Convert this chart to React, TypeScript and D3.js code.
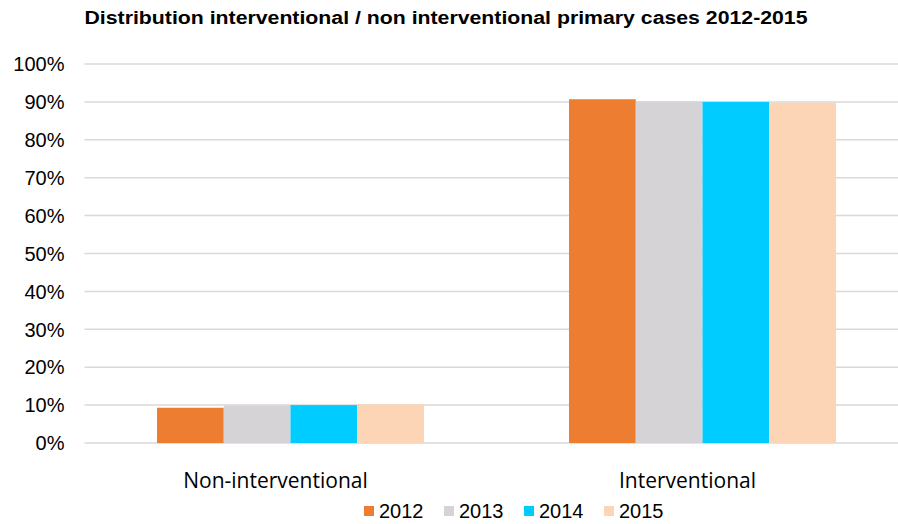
import * as d3 from "d3";
import { useEffect, useRef } from "react";

const categories = ["Non-interventional", "Interventional"];
const years = ["2012", "2013", "2014", "2015"];
const nonInterventional = [9.3, 9.9, 10.0, 10.2];
const interventional = [90.7, 90.1, 90.0, 89.8];
const yTicks = [0, 10, 20, 30, 40, 50, 60, 70, 80, 90, 100];
const colors = ["#ED7D31", "#D6D3D6", "#00CCFF", "#FBD5B5"];

export default function App() {
    const ref = useRef<SVGSVGElement>(null);

    useEffect(() => {
        const svg = d3.select(ref.current);
        svg.selectAll("*").remove();

        const width = 898;
        const height = 524;
        const margin = { top: 64, left: 84.5, right: -10.5, bottom: 81 };
        const plotW = width - margin.left - margin.right;
        const plotH = height - margin.top - margin.bottom;

        const values = [nonInterventional, interventional];

        // title
        svg.append("text")
            .attr("x", 446)
            .attr("y", 24)
            .attr("text-anchor", "middle")
            .style("font-family", "'Liberation Sans', Arial, sans-serif")
            .style("font-weight", "bold")
            .style("font-size", "18px")
            .attr("textLength", 723)
            .attr("lengthAdjust", "spacingAndGlyphs")
            .text("Distribution interventional / non interventional primary cases 2012-2015");

        const g = svg.append("g").attr("transform", `translate(${margin.left},${margin.top})`);

        const y = d3.scaleLinear().domain([0, 100]).range([plotH, 0]);
        const x0 = d3.scaleBand().domain(categories).range([0, plotW]).paddingInner(0.352).paddingOuter(0.176);
        const x1 = d3.scaleBand().domain(years).range([0, x0.bandwidth()]);

        // gridlines
        g.selectAll("line.grid")
            .data(yTicks)
            .enter()
            .append("line")
            .attr("class", "grid")
            .attr("x1", 0)
            .attr("x2", plotW)
            .attr("y1", d => y(d))
            .attr("y2", d => y(d))
            .attr("stroke", "#d9d9d9")
            .attr("stroke-width", 1.5);

        // y labels
        g.selectAll("text.ytick")
            .data(yTicks)
            .enter()
            .append("text")
            .attr("class", "ytick")
            .attr("x", -20)
            .attr("y", d => y(d))
            .attr("dy", "0.36em")
            .attr("text-anchor", "end")
            .style("font-family", "'Liberation Sans', Arial, sans-serif")
            .style("font-size", "20px")
            .attr("fill", "#000")
            .text(d => `${d}%`);

        // bars
        categories.forEach((c, ci) => {
            const grp = g.append("g").attr("transform", `translate(${x0(c)},0)`);
            grp.selectAll("rect")
                .data(values[ci])
                .enter()
                .append("rect")
                .attr("x", (_, i) => x1(years[i]) as number)
                .attr("width", x1.bandwidth())
                .attr("y", d => y(d))
                .attr("height", d => plotH - y(d))
                .attr("fill", (_, i) => colors[i]);

            // category labels sit a little left of the band centre
            g.append("text")
                .attr("x", (x0(c) as number) + x0.bandwidth() / 2 - 15)
                .attr("y", plotH + 45)
                .attr("text-anchor", "middle")
                .style("font-family", "'Open Sans', sans-serif")
                .style("font-size", "21px")
                .attr("fill", "#000")
                .text(c);
        });

        // legend
        const legend = svg.append("g").attr("transform", `translate(364, 511)`);
        years.forEach((yr, i) => {
            const row = legend.append("g").attr("transform", `translate(${i * 80},0)`);
            row.append("rect").attr("x", 0).attr("y", -5).attr("width", 10).attr("height", 10).attr("fill", colors[i]);
            row.append("text")
                .attr("x", 15)
                .attr("y", 0)
                .attr("dy", "0.36em")
                .style("font-family", "'Liberation Sans', Arial, sans-serif")
                .style("font-size", "20px")
                .attr("fill", "#000")
                .text(yr);
        });
    }, []);

    return <svg ref={ref} width={898} height={524} style={{ position: "absolute", left: 0, top: 0 }} />;
}
